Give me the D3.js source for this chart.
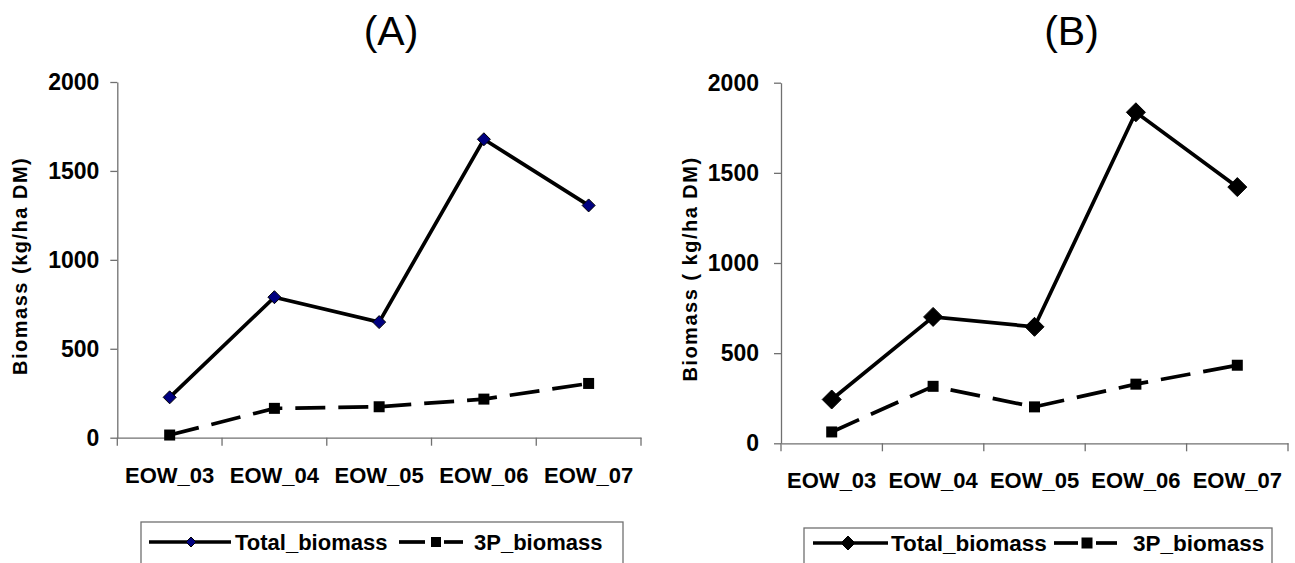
<!DOCTYPE html>
<html>
<head>
<meta charset="utf-8">
<script src="https://cdn.jsdelivr.net/npm/d3@7"></script>
<style>
  body { margin: 0; background: #fff; }
  svg { display: block; }
  text { font-family: "Liberation Sans", Arial, Helvetica, sans-serif; fill: #000; }
</style>
</head>
<body>
<svg id="chart" width="1295" height="563"></svg>
<script>
// Sampling dates (x categories)
const categories = ["EOW_03", "EOW_04", "EOW_05", "EOW_06", "EOW_07"];

// Panel A: biomass (kg/ha DM)
const totalA = [227, 790, 650, 1678, 1306];
const p3A = [15, 165, 174, 217, 305];

// Panel B: biomass (kg/ha DM)
const totalB = [243, 701, 646, 1836, 1421];
const p3B = [63, 316, 202, 328, 433];

const yTicks = [0, 500, 1000, 1500, 2000];
const seriesNames = ["Total_biomass", "3P_biomass"];
const panelTitles = ["(A)", "(B)"];
const yTitles = ["Biomass (kg/ha DM)", "Biomass ( kg/ha DM)"];

const AXIS_GREY = "#707070";
const DASH = "30,13";
const LINE_W = 3.7;

const panels = [
  {
    title: panelTitles[0], titleX: 391,
    yTitle: yTitles[0], yTitleX: 27, yTitleSize: 20,
    total: totalA, p3: p3A,
    x0: 117.3, x1: 641, yTop: 82, yBottom: 437.7, yPad: 11,
    diamondR: 6.5, diamondFill: "#000080", squareS: 11,
    legend: { x: 141, y: 522, w: 482, lineY: 542, base: 550, size: 22,
              l1: [149, 231], d1: 191, dR: 5, t1: 235,
              l2a: [399, 425], sq: 436, l2b: [444, 463], t2: 474, sqS: 10 }
  },
  {
    title: panelTitles[1], titleX: 1071.5,
    yTitle: yTitles[1], yTitleX: 697, yTitleSize: 20,
    total: totalB, p3: p3B,
    x0: 781, x1: 1288, yTop: 82.7, yBottom: 443.3, yPad: 15,
    diamondR: 9.5, diamondFill: "#000000", squareS: 11,
    legend: { x: 804, y: 528, w: 468, lineY: 543, base: 551, size: 22.5,
              l1: [813, 888], d1: 848, dR: 7, t1: 891,
              l2a: [1054, 1078], sq: 1087, l2b: [1096, 1117], t2: 1133, sqS: 11 }
  }
];

const svg = d3.select("#chart");

function diamondPath(r) {
  return `M0,${-r}L${r},0L0,${r}L${-r},0Z`;
}
function squarePath(s) {
  const h = s / 2;
  return `M${-h},${-h}H${h}V${h}H${-h}Z`;
}

panels.forEach(p => {
  const g = svg.append("g");

  const x = d3.scaleBand().domain(categories).range([p.x0, p.x1]).padding(0);
  const y = d3.scaleLinear().domain([0, 2000]).range([p.yBottom, p.yTop]);
  const cx = c => x(c) + x.bandwidth() / 2;

  // Panel title
  g.append("text")
    .attr("x", p.titleX).attr("y", 45)
    .attr("text-anchor", "middle")
    .style("font-size", "41px")
    .text(p.title);

  // Y axis
  const yAxis = g.append("g")
    .attr("transform", `translate(${p.x0},0)`)
    .call(d3.axisLeft(y).tickValues(yTicks).tickFormat(d3.format("d"))
      .tickSize(7).tickSizeOuter(0).tickPadding(p.yPad));
  yAxis.select(".domain").attr("stroke", AXIS_GREY).attr("stroke-width", 1.3);
  yAxis.selectAll(".tick line").attr("stroke", AXIS_GREY).attr("stroke-width", 1.3);
  yAxis.selectAll(".tick text")
    .style("font-size", "23px").style("font-weight", "bold")
    .style("font-family", "'Liberation Sans', Arial, sans-serif")
    .attr("fill", "#000");

  // X axis with labels centred in each category
  const xAxis = g.append("g")
    .attr("transform", `translate(0,${p.yBottom})`)
    .call(d3.axisBottom(x).tickSize(0).tickSizeOuter(0).tickPadding(29.4));
  xAxis.select(".domain").attr("stroke", AXIS_GREY).attr("stroke-width", 1.3);
  xAxis.selectAll(".tick text")
    .style("font-size", "22px").style("font-weight", "bold")
    .style("font-family", "'Liberation Sans', Arial, sans-serif")
    .attr("fill", "#000");

  // Tick marks at category boundaries
  const bounds = [x.range()[0]].concat(categories.map(c => x(c) + x.bandwidth()));
  g.append("g").selectAll("line").data(bounds).join("line")
    .attr("x1", d => d).attr("x2", d => d)
    .attr("y1", p.yBottom).attr("y2", p.yBottom + 8)
    .attr("stroke", AXIS_GREY).attr("stroke-width", 1.3);

  // Y axis title
  g.append("text")
    .attr("transform", `translate(${p.yTitleX},${(p.yTop + p.yBottom) / 2 + 6}) rotate(-90)`)
    .attr("text-anchor", "middle")
    .style("font-size", p.yTitleSize + "px")
    .style("font-weight", "bold")
    .style("letter-spacing", "1.5px")
    .text(p.yTitle);

  const line = d3.line().x((d, i) => cx(categories[i])).y(d => y(d));

  // 3P biomass (dashed)
  g.append("path")
    .datum(p.p3)
    .attr("d", line)
    .attr("fill", "none").attr("stroke", "#000")
    .attr("stroke-width", LINE_W)
    .attr("stroke-dasharray", DASH);

  // Total biomass (solid)
  g.append("path")
    .datum(p.total)
    .attr("d", line)
    .attr("fill", "none").attr("stroke", "#000")
    .attr("stroke-width", LINE_W);

  g.append("g").selectAll("path").data(p.p3).join("path")
    .attr("transform", (d, i) => `translate(${cx(categories[i])},${y(d)})`)
    .attr("d", squarePath(p.squareS))
    .attr("fill", "#000");

  g.append("g").selectAll("path").data(p.total).join("path")
    .attr("transform", (d, i) => `translate(${cx(categories[i])},${y(d)})`)
    .attr("d", diamondPath(p.diamondR))
    .attr("fill", p.diamondFill).attr("stroke", "#000").attr("stroke-width", 1);

  // Legend
  const L = p.legend;
  const lg = g.append("g");
  lg.append("rect")
    .attr("x", L.x).attr("y", L.y).attr("width", L.w).attr("height", 80)
    .attr("fill", "#fff").attr("stroke", AXIS_GREY).attr("stroke-width", 1.3);
  lg.append("line")
    .attr("x1", L.l1[0]).attr("x2", L.l1[1]).attr("y1", L.lineY).attr("y2", L.lineY)
    .attr("stroke", "#000").attr("stroke-width", LINE_W);
  lg.append("path")
    .attr("transform", `translate(${L.d1},${L.lineY})`)
    .attr("d", diamondPath(L.dR))
    .attr("fill", p.diamondFill).attr("stroke", "#000").attr("stroke-width", 1);
  lg.append("text")
    .attr("x", L.t1).attr("y", L.base)
    .style("font-size", L.size + "px").style("font-weight", "bold")
    .text(seriesNames[0]);
  [L.l2a, L.l2b].forEach(seg => {
    lg.append("line")
      .attr("x1", seg[0]).attr("x2", seg[1]).attr("y1", L.lineY).attr("y2", L.lineY)
      .attr("stroke", "#000").attr("stroke-width", LINE_W);
  });
  lg.append("path")
    .attr("transform", `translate(${L.sq},${L.lineY})`)
    .attr("d", squarePath(L.sqS))
    .attr("fill", "#000");
  lg.append("text")
    .attr("x", L.t2).attr("y", L.base)
    .style("font-size", L.size + "px").style("font-weight", "bold")
    .text(seriesNames[1]);
});
</script>
</body>
</html>
